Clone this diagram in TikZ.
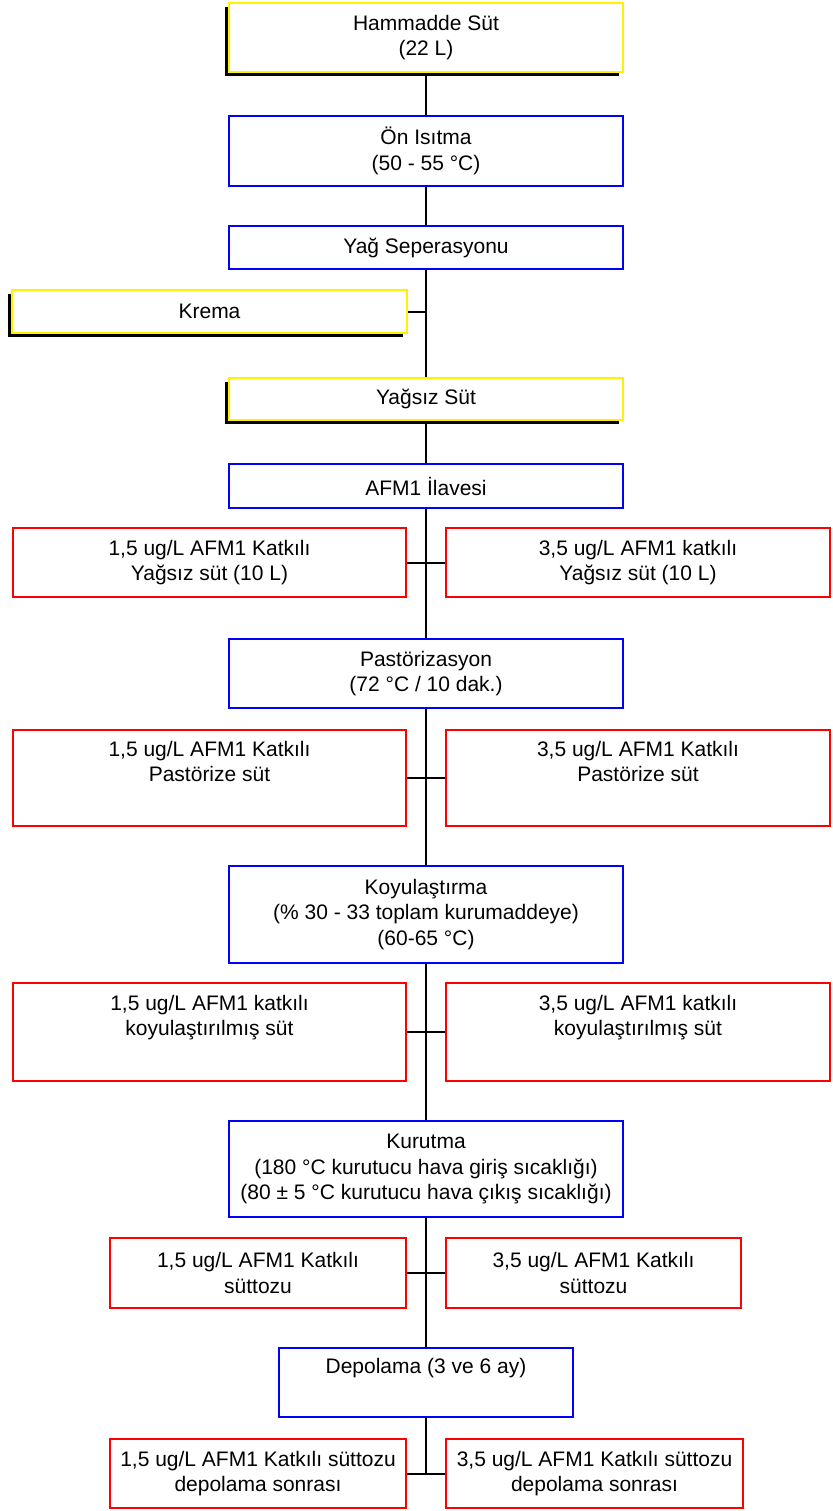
\documentclass[tikz,border=0pt]{standalone}
\usepackage{fontspec}
\setmainfont{Liberation Sans}
\usetikzlibrary{shadows}
\tikzset{
  nodebase/.style={draw,line width=2pt,fill=white,inner sep=0pt,align=center,
    font=\fontsize{21}{25.5}\selectfont},
  inputbox/.style={nodebase,draw=yellow,
    drop shadow={shadow xshift=-4pt,shadow yshift=-4pt,fill=black,opacity=1}},
  processbox/.style={nodebase,draw=blue},
  samplebox/.style={nodebase,draw=red},
  joinline/.style={line width=2pt,draw=black},
}

\begin{document}
\begin{tikzpicture}[x=1pt,y=-1pt]
    \useasboundingbox (0,0) rectangle (832,1511);

    \node[inputbox,minimum width=394pt,minimum height=69pt] (hammadde) at (426,37.5) {Hammadde Süt\\(22 L)};
    \node[processbox,minimum width=394pt,minimum height=70pt] (onisitma) at (426,151) {Ön Isıtma\\(50 - 55 °C)};
    \node[processbox,minimum width=394pt,minimum height=43pt] (yagsep) at (426,247.5) {Yağ Seperasyonu};
    \node[inputbox,minimum width=395pt,minimum height=43pt] (krema) at (209.5,311.5) {Krema};
    \node[inputbox,minimum width=394pt,minimum height=42pt] (yagsiz) at (426,399) {Yağsız Süt};
    \node[processbox,minimum width=394pt,minimum height=44pt] (ilave) at (426,486) {AFM1 İlavesi};

    \node[samplebox,minimum width=393pt,minimum height=69pt] (sutA) at (209.5,562.5) {1,5 ug/L AFM1 Katkılı\\Yağsız süt (10 L)};
    \node[samplebox,minimum width=384pt,minimum height=69pt] (sutB) at (638,562.5) {3,5 ug/L AFM1 katkılı\\Yağsız süt (10 L)};

    \node[processbox,minimum width=394pt,minimum height=69pt] (pastor) at (426,673.5) {Pastörizasyon\\(72 °C / 10 dak.)};
    \node[samplebox,minimum width=393pt,minimum height=96pt] (pastA) at (209.5,778) {1,5 ug/L AFM1 Katkılı\\Pastörize süt\\\strut};
    \node[samplebox,minimum width=384pt,minimum height=96pt] (pastB) at (638,778) {3,5 ug/L AFM1 Katkılı\\Pastörize süt\\\strut};

    \node[processbox,minimum width=394pt,minimum height=97pt] (koyu) at (426,914.5) {Koyulaştırma\\(\% 30 - 33 toplam kurumaddeye)\\(60-65 °C)};
    \node[samplebox,minimum width=393pt,minimum height=98pt] (koyuA) at (209.5,1032) {1,5 ug/L AFM1 katkılı\\koyulaştırılmış süt\\\strut};
    \node[samplebox,minimum width=384pt,minimum height=98pt] (koyuB) at (638,1032) {3,5 ug/L AFM1 katkılı\\koyulaştırılmış süt\\\strut};

    \node[processbox,minimum width=394pt,minimum height=96pt] (kurutma) at (426,1169) {Kurutma\\(180 °C kurutucu hava giriş sıcaklığı)\\(80 ± 5 °C kurutucu hava çıkış sıcaklığı)};
    \node[samplebox,minimum width=296pt,minimum height=70pt] (tozA) at (258,1273) {1,5 ug/L AFM1 Katkılı\\süttozu};
    \node[samplebox,minimum width=295pt,minimum height=70pt] (tozB) at (593.5,1273) {3,5 ug/L AFM1 Katkılı\\süttozu};

    \node[processbox,minimum width=294pt,minimum height=69pt] (depolama) at (426,1382.5) {Depolama (3 ve 6 ay)\\\strut};
    \node[samplebox,minimum width=296pt,minimum height=69pt] (depoA) at (258,1473.5) {1,5 ug/L AFM1 Katkılı süttozu\\depolama sonrası};
    \node[samplebox,minimum width=297pt,minimum height=69pt] (depoB) at (594.5,1473.5) {3,5 ug/L AFM1 Katkılı süttozu\\depolama sonrası};

    % main line
    \draw[joinline] (hammadde) -- (onisitma);
    \draw[joinline] (onisitma) -- (yagsep);
    \draw[joinline] (yagsep) -- (yagsiz);
    \draw[joinline] (krema.east) -- (krema.east -| yagsep.south);
    \draw[joinline] (yagsiz) -- (ilave);
    \draw[joinline] (ilave) -- (pastor);
    \draw[joinline] (pastor) -- (koyu);
    \draw[joinline] (koyu) -- (kurutma);
    \draw[joinline] (kurutma) -- (depolama);
    \draw[joinline] (depolama.south) -- (depolama.south |- depoA.east);

    % side branches
    \draw[joinline] (sutA.east) -- (sutB.west);
    \draw[joinline] (pastA.east) -- (pastB.west);
    \draw[joinline] (koyuA.east) -- (koyuB.west);
    \draw[joinline] (tozA.east) -- (tozB.west);
    \draw[joinline] (depoA.east) -- (depoB.west);
\end{tikzpicture}
\end{document}
